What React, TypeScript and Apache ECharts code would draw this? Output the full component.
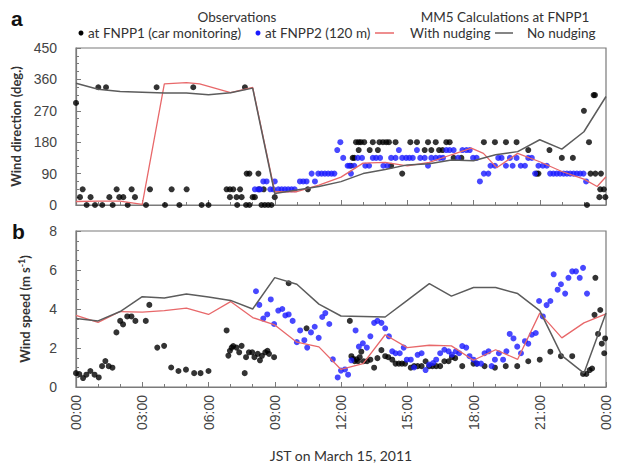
import React, { useEffect, useRef } from "react";
import * as echarts from "echarts";

// Hours after 00:00 JST, March 15, 2011
const xTickHours = [0, 3, 6, 9, 12, 15, 18, 21, 24];
const dirTicks = [0, 90, 180, 270, 360, 450];
const speedTicks = [0, 2, 4, 6, 8];

// Observations: wind direction (deg.) [hour, value]
const dirFNPP1: [number, number][] = [
  [0, 292.5], [0.18, 22.5], [0.3, 45], [0.48, 0], [0.66, 22.5], [0.86, 0], [1.01, 337.5], [1.19, 0],
  [1.36, 337.5], [1.51, 22.5], [1.66, 0], [1.84, 45], [1.96, 22.5], [2.14, 22.5], [2.34, 0], [2.52, 45],
  [2.67, 22.5], [3.17, 0], [3.35, 45], [3.65, 337.5], [4.03, 0], [4.33, 45], [4.68, 0], [5.01, 45],
  [5.31, 337.5], [5.69, 0], [6.0, 0], [6.82, 45], [6.97, 45], [7.12, 45], [6.97, 22.5], [7.27, 22.5],
  [7.43, 45], [7.3, 0], [7.5, 22.5], [7.65, 337.5], [7.73, 90], [7.85, 90], [8.0, 22.5], [8.1, 22.5],
  [8.26, 90], [8.29, 45], [7.7, 0], [7.85, 0], [8.4, 0], [8.55, 0], [8.7, 0], [8.85, 0], [8.5, 45],
  [9.0, 22.5], [10.5, 45],
  [12.45, 112.5], [12.53, 135], [12.6, 135], [12.68, 180], [12.8, 180], [12.9, 180], [13.05, 180],
  [12.8, 157.5], [13.3, 157.5], [13.44, 180], [13.67, 157.5], [13.74, 180], [13.9, 180], [14.05, 180],
  [14.17, 180], [14.27, 112.5], [14.47, 180], [14.77, 90], [15.14, 180], [15.44, 180], [15.79, 157.5],
  [15.94, 180], [16.09, 157.5], [16.29, 180], [16.44, 157.5], [16.6, 157.5], [16.77, 180], [16.92, 180],
  [17.1, 135], [17.45, 135], [18.47, 180], [18.97, 180], [19.47, 180], [19.95, 180], [20.48, 157.5],
  [20.86, 90], [20.94, 90], [21.44, 157.5], [22.0, 135], [22.5, 135], [23.0, 270], [23.14, 0],
  [23.23, 180], [23.3, 90], [23.44, 315], [23.5, 315], [23.52, 90], [23.74, 45], [23.77, 90],
  [23.9, 45], [23.7, 22.5], [23.97, 22.5],
];

const dirFNPP2: [number, number][] = [
  [8.1, 45], [8.25, 45], [8.35, 45], [8.48, 67.5], [8.63, 67.5], [8.8, 45], [8.94, 45], [9.0, 67.5],
  [9.16, 45], [9.31, 45], [9.46, 45], [9.61, 45], [9.76, 45], [9.9, 45], [10.14, 67.5], [10.29, 67.5],
  [10.44, 67.5], [10.67, 90], [10.82, 67.5], [10.97, 90], [11.12, 90], [11.27, 90], [11.42, 90],
  [11.57, 90], [11.7, 90], [11.83, 157.5], [11.97, 180],
  [12.1, 135], [12.3, 112.5], [12.38, 112.5], [12.45, 90], [12.6, 112.5], [12.76, 135], [12.95, 135],
  [13.1, 112.5], [13.27, 112.5], [13.44, 135], [13.59, 135], [13.77, 135], [13.92, 112.5], [14.1, 112.5],
  [14.27, 135], [14.47, 135], [14.62, 157.5], [14.77, 135], [14.95, 135], [15.1, 135], [15.25, 135],
  [15.44, 157.5], [15.59, 135], [15.79, 135], [15.94, 112.5], [16.09, 135], [16.29, 135], [16.47, 135],
  [16.62, 135], [16.77, 157.5], [16.92, 157.5], [17.1, 157.5], [17.3, 135], [17.5, 157.5], [17.68, 157.5],
  [17.83, 157.5], [17.98, 135], [18.14, 135], [18.29, 67.5], [18.47, 90], [18.67, 90], [18.77, 112.5],
  [18.97, 112.5], [19.12, 135], [19.27, 135], [19.47, 112.5], [19.65, 135], [19.77, 112.5], [19.95, 135],
  [20.14, 112.5], [20.33, 112.5], [20.48, 135], [20.64, 135], [20.79, 90], [20.94, 112.5], [21.14, 112.5],
  [21.32, 112.5], [21.47, 90], [21.62, 90], [21.77, 90], [21.92, 90], [22.08, 90], [22.23, 90],
  [22.38, 90], [22.53, 90], [22.68, 90], [22.83, 90], [22.98, 90], [23.1, 67.5],
];

// MM5 calculations: wind direction
const dirNudging: [number, number][] = [
  [0, 10], [1, 11], [2, 11], [3, 2], [4, 347], [5, 351], [5.6, 347], [7, 322], [8, 337], [9, 38],
  [10, 38], [11, 57], [12, 80], [13, 120], [14, 122], [15, 112], [16, 122], [17, 144], [17.9, 163],
  [18.45, 148], [19.05, 107], [20, 148], [21, 124], [22, 96], [23, 74], [23.6, 53], [24, 81],
];
const dirNoNudging: [number, number][] = [
  [0, 349], [1, 332], [2, 325], [3, 323], [4, 321], [5, 321], [6, 316], [7, 322], [8, 335], [9, 33],
  [10, 43], [11, 53], [12, 67], [13, 90], [14, 102], [15, 115], [16, 118], [17, 129], [18, 127],
  [19, 144], [20, 153], [21, 187], [22, 160], [23, 210], [24, 311],
];

// Observations: wind speed (m/s)
const spdFNPP1: [number, number][] = [
  [0, 0.71], [0.15, 0.66], [0.32, 0.46], [0.47, 0.63], [0.65, 0.82], [0.84, 0.63], [1.03, 0.49],
  [1.18, 1.07], [1.33, 1.33], [1.48, 1.07], [1.65, 0.99], [1.83, 2.8], [2.0, 3.39], [2.13, 3.21],
  [2.32, 3.62], [2.51, 3.62], [2.69, 3.39], [3.16, 3.39], [3.32, 4.21], [3.68, 2.02], [3.99, 2.11],
  [4.31, 1.0], [4.64, 0.82], [4.98, 0.89], [5.35, 0.71], [5.64, 0.71], [6.0, 0.82], [6.82, 2.9],
  [6.9, 1.61], [6.97, 1.86], [7.05, 2.02], [7.12, 2.1], [7.27, 2.02], [7.39, 1.78], [7.5, 2.11],
  [7.64, 0.71], [7.7, 1.53], [7.83, 1.78], [7.98, 1.78], [8.08, 1.53], [8.23, 1.7], [8.33, 1.37],
  [8.42, 1.6], [8.57, 1.78], [8.67, 1.86], [8.74, 1.7], [8.97, 1.53], [9.63, 5.32], [10.44, 3.01],
  [12.4, 3.39], [12.47, 1.58], [12.55, 1.45], [12.62, 1.32], [12.7, 1.42], [12.77, 1.32], [12.85, 1.53],
  [12.92, 1.81], [13.03, 1.32], [13.18, 1.32], [13.33, 1.4], [13.5, 0.99], [13.65, 1.48], [13.83, 1.89],
  [14.0, 1.58], [14.14, 1.53], [14.32, 1.4], [14.47, 1.2], [14.62, 1.2], [14.76, 1.2], [14.9, 1.2],
  [15.16, 0.99], [15.31, 1.07], [15.47, 1.07], [15.65, 1.07], [15.83, 1.32], [15.99, 1.07], [16.14, 1.07],
  [16.31, 1.07], [16.49, 1.07], [16.68, 1.32], [16.87, 1.32], [17.02, 1.53], [17.17, 1.48], [17.49, 1.07],
  [18.0, 1.2], [18.15, 1.2], [18.5, 1.07], [18.97, 0.99], [19.46, 1.07], [19.98, 1.07], [20.48, 1.32],
  [21.0, 1.4], [21.48, 1.81], [21.96, 1.58], [22.47, 1.58], [22.96, 0.67], [23.11, 0.67], [23.26, 0.87],
  [23.37, 0.95], [23.48, 3.7], [23.52, 5.6], [23.74, 3.95], [23.64, 2.72], [23.81, 2.22], [23.92, 1.73],
  [23.96, 2.49],
];

const spdFNPP2: [number, number][] = [
  [8.15, 4.91], [8.3, 4.21], [8.48, 3.51], [8.66, 3.72], [8.82, 4.49], [8.97, 3.23], [9.16, 3.92],
  [9.34, 4.0], [9.48, 3.67], [9.63, 3.72], [9.81, 3.39], [10.0, 2.3], [10.15, 2.9], [10.34, 2.4],
  [10.47, 2.02], [10.64, 2.8], [10.81, 3.09], [10.99, 2.52], [11.15, 3.59], [11.29, 3.79], [11.47, 3.23],
  [11.63, 1.42], [11.85, 0.49], [12.0, 0.84], [12.18, 0.9], [12.32, 0.63], [12.47, 1.37], [12.66, 2.9],
  [12.81, 2.07], [12.99, 2.24], [13.17, 2.02], [13.33, 2.6], [13.5, 3.29], [13.65, 3.39], [13.83, 3.29],
  [14.0, 3.01], [14.17, 2.6], [14.32, 1.83], [14.47, 1.73], [14.66, 1.73], [14.84, 2.02], [14.98, 1.4],
  [15.16, 1.4], [15.31, 1.0], [15.47, 1.65], [15.65, 1.73], [15.83, 0.87], [15.99, 1.15], [16.17, 1.23],
  [16.31, 1.4], [16.49, 1.73], [16.68, 1.91], [16.87, 1.83], [17.02, 1.66], [17.2, 1.83], [17.35, 1.73],
  [17.49, 2.1], [17.67, 2.02], [17.82, 1.58], [18.0, 1.4], [18.16, 1.2], [18.34, 1.2], [18.5, 1.73],
  [18.68, 1.83], [18.82, 1.07], [18.97, 1.4], [19.15, 1.73], [19.34, 1.4], [19.49, 1.83], [19.64, 2.72],
  [19.81, 2.49], [19.98, 2.07], [20.15, 1.73], [20.33, 2.35], [20.48, 2.22], [20.64, 2.68], [20.82, 2.77],
  [20.97, 4.41], [21.14, 3.62], [21.31, 4.2], [21.48, 4.41], [21.63, 5.78], [21.81, 4.99], [21.96, 5.27],
  [22.15, 4.79], [22.3, 5.6], [22.47, 5.93], [22.64, 5.93], [22.81, 5.6], [22.96, 6.11], [23.14, 4.79],
];

// MM5 calculations: wind speed
const spdNudging: [number, number][] = [
  [0, 3.67], [1, 3.31], [2, 3.87], [3, 3.84], [4, 3.92], [5, 4.05], [6, 3.72], [7, 4.38], [8, 3.56],
  [9, 3.18], [10, 2.3], [11, 2.06], [12, 0.9], [13, 1.2], [14, 2.68], [15, 2.02], [16, 2.14], [17, 2.11],
  [18, 1.37], [19, 1.91], [20, 1.42], [21, 3.79], [22, 2.52], [23, 3.29], [24, 3.75],
];
const spdNoNudging: [number, number][] = [
  [0, 3.51], [1, 3.39], [2, 3.87], [3, 4.63], [4, 4.56], [5, 4.77], [6, 4.61], [7, 4.44], [8, 4.0],
  [9, 5.61], [10, 5.27], [11, 4.25], [12, 3.64], [13, 3.62], [14, 3.59], [15, 4.44], [16, 5.3], [17, 4.66],
  [18, 5.1], [19, 5.1], [20, 4.79], [21, 3.92], [22, 1.61], [23, 0.71], [24, 3.79],
];

const RED = "#e8686a";
const GRAY = "#5c5c5c";
const BLUE = "#1a1aff";
const AXIS = "#7a7a7a";
const TXT = "#333";
const FONT = "Lato, 'Open Sans', sans-serif";
const NUMFONT = "'Liberation Sans', Arial, sans-serif";

const fmtHour = (v: number) => {
  const h = Math.round(v) % 24;
  return (h < 10 ? "0" + h : "" + h) + ":00";
};

export default function App() {
  const ref = useRef<HTMLDivElement>(null);
  useEffect(() => {
    if (!ref.current) return;
    const chart = echarts.init(ref.current, undefined, { renderer: "svg" });
    const xBase = (gridIndex: number, showLabels: boolean) => ({
      type: "value" as const,
      gridIndex,
      min: xTickHours[0],
      max: xTickHours[xTickHours.length - 1],
      interval: 3,
      axisLine: { show: true, lineStyle: { color: AXIS, width: 1.2 } },
      axisTick: { show: true, inside: true, length: 5, lineStyle: { color: AXIS } },
      minorTick: { show: true, splitNumber: 3, length: 3, lineStyle: { color: AXIS } },
      splitLine: { show: false },
      axisLabel: showLabels
        ? { show: true, rotate: 90, formatter: fmtHour, fontFamily: NUMFONT, fontSize: 14, color: "#444", margin: 8 }
        : { show: false },
      name: showLabels ? "JST on March 15, 2011" : "",
      nameLocation: "middle" as const,
      nameGap: 61,
      nameTextStyle: { fontFamily: FONT, fontSize: 14, color: TXT },
    });
    const yBase = (gridIndex: number, ticks: number[], minor: number, name: string, nameGap: number) => ({
      type: "value" as const,
      gridIndex,
      min: ticks[0],
      max: ticks[ticks.length - 1],
      interval: ticks[1] - ticks[0],
      axisLine: { show: true, lineStyle: { color: AXIS, width: 1.2 } },
      axisTick: { show: true, inside: true, length: 5, lineStyle: { color: AXIS } },
      minorTick: { show: true, splitNumber: minor, length: 3, lineStyle: { color: AXIS } },
      splitLine: { show: false },
      axisLabel: { fontFamily: NUMFONT, fontSize: 14, color: "#444", margin: 19 },
      name,
      nameLocation: "middle" as const,
      nameGap,
      nameTextStyle: {
        fontFamily: FONT,
        fontSize: 13,
        fontWeight: "bold" as const,
        color: TXT,
        rich: {
          a: { fontFamily: FONT, fontSize: 13, fontWeight: "bold", color: TXT },
          s: { fontFamily: FONT, fontSize: 9, fontWeight: "bold", color: TXT, verticalAlign: "top", padding: [0, 0, 6, 0] },
        },
      },
    });
    const scatter = (name: string, data: [number, number][], color: string, idx: number) => ({
      name,
      type: "scatter" as const,
      xAxisIndex: idx,
      yAxisIndex: idx,
      data,
      symbolSize: 6,
      itemStyle: { color },
      z: 2,
    });
    const line = (name: string, data: [number, number][], color: string, width: number, idx: number) => ({
      name,
      type: "line" as const,
      xAxisIndex: idx,
      yAxisIndex: idx,
      data,
      showSymbol: false,
      symbol: "none",
      lineStyle: { color, width },
      z: 3,
    });
    chart.setOption({
      animation: false,
      backgroundColor: "#fff",
      grid: [
        { left: 76, top: 48, width: 530, height: 157, show: true, borderColor: AXIS, borderWidth: 1.2, backgroundColor: "transparent" },
        { left: 76, top: 231, width: 530, height: 162, show: true, borderColor: AXIS, borderWidth: 1.2, backgroundColor: "transparent" },
      ],
      xAxis: [xBase(0, false), xBase(1, true)],
      yAxis: [
        yBase(0, dirTicks, 4, "Wind direction (deg.)", 48),
        yBase(1, speedTicks, 4, "{a|Wind speed (m s}{s|-1}{a|)}", 44),
      ],
      series: [
        scatter("at FNPP1 (car monitoring)", dirFNPP1, "#000", 0),
        scatter("at FNPP2 (120 m)", dirFNPP2, BLUE, 0),
        line("With nudging", dirNudging, RED, 1.3, 0),
        line("No nudging", dirNoNudging, GRAY, 1.5, 0),
        scatter("at FNPP1 (car monitoring)", spdFNPP1, "#000", 1),
        scatter("at FNPP2 (120 m)", spdFNPP2, BLUE, 1),
        line("With nudging", spdNudging, RED, 1.3, 1),
        line("No nudging", spdNoNudging, GRAY, 1.5, 1),
      ],
      graphic: [
        { type: "text", left: 11, top: 8, style: { text: "a", font: `bold 21px ${NUMFONT}`, fill: "#111" } },
        { type: "text", left: 12, top: 221, style: { text: "b", font: `bold 21px ${NUMFONT}`, fill: "#111" } },
        { type: "text", x: 237, y: 17, style: { text: "Observations", font: `13.5px ${FONT}`, fill: TXT, align: "center", verticalAlign: "middle" } },
        { type: "text", x: 505, y: 17, style: { text: "MM5 Calculations at FNPP1", font: `13.5px ${FONT}`, fill: TXT, align: "center", verticalAlign: "middle" } },
        { type: "circle", shape: { cx: 81, cy: 33, r: 2.5 }, style: { fill: "#000" } },
        { type: "text", x: 88, y: 33, style: { text: "at FNPP1 (car monitoring)", font: `13.5px ${FONT}`, fill: TXT, verticalAlign: "middle" } },
        { type: "circle", shape: { cx: 258, cy: 33, r: 2.5 }, style: { fill: BLUE } },
        { type: "text", x: 265, y: 33, style: { text: "at FNPP2 (120 m)", font: `13.5px ${FONT}`, fill: TXT, verticalAlign: "middle" } },
        { type: "line", shape: { x1: 375, y1: 33, x2: 394, y2: 33 }, style: { stroke: RED, lineWidth: 1.5 } },
        { type: "text", x: 410, y: 33, style: { text: "With nudging", font: `13.5px ${FONT}`, fill: TXT, verticalAlign: "middle" } },
        { type: "line", shape: { x1: 495, y1: 33, x2: 513, y2: 33 }, style: { stroke: GRAY, lineWidth: 1.5 } },
        { type: "text", x: 527, y: 33, style: { text: "No nudging", font: `13.5px ${FONT}`, fill: TXT, verticalAlign: "middle" } },
      ],
    });
    return () => chart.dispose();
  }, []);
  return <div ref={ref} style={{ position: "absolute", left: 0, top: 0, width: 618, height: 463 }} />;
}
